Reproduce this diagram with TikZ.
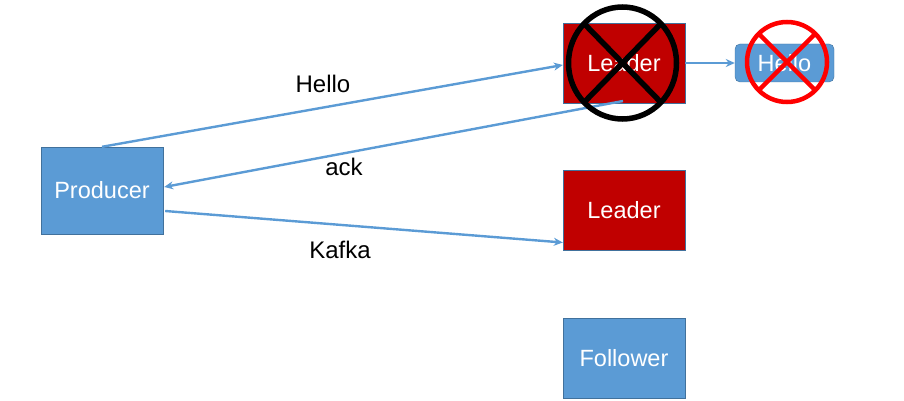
\documentclass[tikz,border=0pt]{standalone}
\usepackage{fontspec}
\setmainfont{Liberation Sans}
\usetikzlibrary{arrows.meta,calc}
\definecolor{boxblue}{HTML}{5B9BD5}
\definecolor{boxedge}{HTML}{41719C}
\definecolor{leadred}{HTML}{C00000}
\tikzset{
  bluebox/.style={draw=boxedge, fill=boxblue, text=white, minimum width=122pt, minimum height=87pt, inner sep=0pt, font=\fontsize{23.5}{28}\selectfont},
  redbox/.style={bluebox, fill=leadred, minimum height=80pt},
  conn/.style={draw=boxblue, line width=2.4pt, -{Stealth[length=9pt,width=8pt]}},
  lbl/.style={font=\fontsize{24}{28}\selectfont, text=black}
}
\begin{document}
\begin{tikzpicture}[x=1pt,y=-1pt]
\useasboundingbox (0,0) rectangle (904,401);
\node[bluebox] (prod) at (102,190.5) {Producer};
\node[redbox] (lead1) at (624,63) {Leader};
\node[redbox] (lead2) at (624,210.5) {Leader};
\node[bluebox, minimum height=80pt] (fol) at (624,358) {Follower};
\node[draw=boxedge, fill=boxblue, text=white, rounded corners=5pt, minimum width=99pt, minimum height=38pt, inner sep=0pt, font=\fontsize{23.5}{28}\selectfont] (hello) at (784.5,63) {Hello};
\coordinate (ackstart) at (623,101);
\draw[conn] (prod.north) -- ([yshift=-2pt]lead1.west);
\draw[conn] (ackstart) -- ([xshift=1pt,yshift=3.5pt]prod.east);
\draw[conn] ([xshift=2pt,yshift=-20.5pt]prod.east) -- ([yshift=-32pt]lead2.west);
\draw[conn] (lead1.east) -- (hello.west);
\node[lbl] (l1) at (323,84) {Hello};
\node[lbl] (l2) at (344,167) {ack};
\node[lbl] (l3) at (340,250) {Kafka};
% crosses
\coordinate (bc) at (622.5,63);
\draw[black, line width=5.5pt] (bc) ellipse [x radius=54, y radius=56];
\draw[black, line width=5.5pt] ($(bc)+(-39,-40)$) -- ($(bc)+(39,40)$);
\draw[black, line width=5.5pt] ($(bc)+(39,-40)$) -- ($(bc)+(-39,40)$);
\coordinate (rc) at (787,62);
\draw[red, line width=4.5pt] (rc) circle [radius=40];
\draw[red, line width=4.5pt] ($(rc)+(-28,-28)$) -- ($(rc)+(28,28)$);
\draw[red, line width=4.5pt] ($(rc)+(28,-28)$) -- ($(rc)+(-28,28)$);
\end{tikzpicture}
\end{document}
